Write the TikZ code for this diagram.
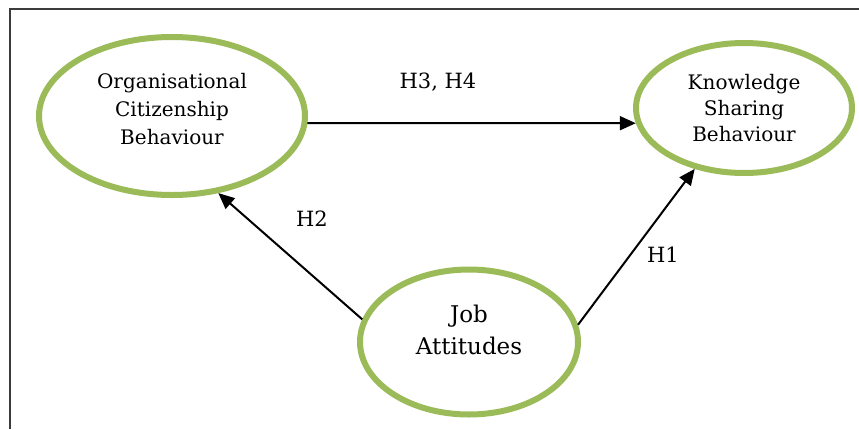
\documentclass[tikz,border=0pt]{standalone}
\usepackage{fontspec}
\setmainfont{DejaVu Serif}
\usetikzlibrary{shapes.geometric,arrows.meta}
\definecolor{ellgreen}{RGB}{155,187,89}
\definecolor{framegray}{RGB}{60,60,60}
\tikzset{
  construct/.style={ellipse, draw=ellgreen, line width=6pt, inner sep=0pt},
  ctext/.style={align=center, inner sep=0pt},
  link/.style={line width=2pt, -{Triangle[length=16pt,width=14pt]}},
  hyp/.style={font=\fontsize{21}{24}\selectfont},
}
\begin{document}
\begin{tikzpicture}[x=1pt,y=-1pt]
\useasboundingbox (0,0) rectangle (859,429);
\draw[framegray, line width=2.5pt] (10,429) -- (10,9) -- (859,9);
\node[construct, minimum width=266pt, minimum height=158pt] (ocb) at (172,116) {};
\node[ctext, font=\fontsize{20}{28}\selectfont] (ocbt) at (172,109) {Organisational\\Citizenship\\Behaviour};
\node[construct, minimum width=216pt, minimum height=130pt] (ksb) at (744,108) {};
\node[ctext, font=\fontsize{20}{26}\selectfont] (ksbt) at (744,108) {Knowledge\\Sharing\\Behaviour};
\node[construct, minimum width=218pt, minimum height=145pt] (ja) at (469,342) {};
\node[ctext, font=\fontsize{23}{32}\selectfont] (jat) at (469,330) {Job\\Attitudes};
\draw[link] (ocb.-3) -- (ksb.188);
\draw[link] (ja.168) -- (ocb.-59);
\draw[link] (ja.9) -- (ksb.231);
\node[hyp] (h34) at (438,82) {H3, H4};
\node[hyp] (h2) at (312,219) {H2};
\node[hyp] (h1) at (663,255) {H1};
\end{tikzpicture}
\end{document}
